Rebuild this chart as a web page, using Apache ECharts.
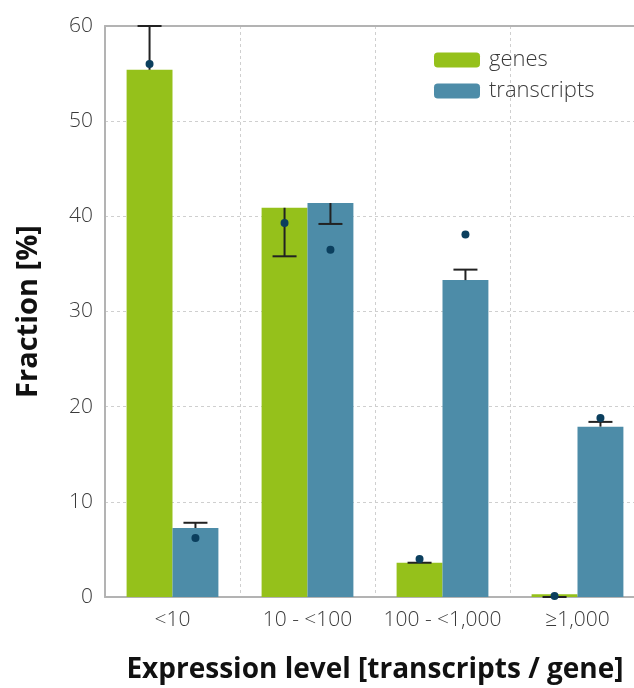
<!DOCTYPE html>
<html><head><meta charset="utf-8">
<script src="https://cdn.jsdelivr.net/npm/echarts@6/dist/echarts.min.js"></script>
<style>html,body{margin:0;padding:0;background:#fff}#c{width:634px;height:688px}</style>
</head><body><div id="c"></div>
<script>
var categories = ['<10', '10 - <100', '100 - <1,000', '\u22651,000'];
var genes = [55.4, 40.9, 3.6, 0.3];
var transcripts = [7.25, 41.4, 33.3, 17.9];
var genesErrEnd = [60, 35.8, 3.6, 0.0];
var transcriptsErrEnd = [7.8, 39.2, 34.4, 18.4];
var genesDots = [56.0, 39.3, 4.0, 0.1];
var transcriptsDots = [6.2, 36.5, 38.1, 18.8];
var yTicks = [0, 10, 20, 30, 40, 50, 60];

var GAP = 0.32;
var HALF = (1 - GAP) / 4;

function errSeries(bars, ends, sign) {
  return {
    type: 'custom', z: 5, silent: true,
    data: bars.map(function (v, i) { return [i, v, ends[i]]; }),
    renderItem: function (params, api) {
      var bw = api.size([1, 0])[0];
      var p0 = api.coord([api.value(0), api.value(1)]);
      var p1 = api.coord([api.value(0), api.value(2)]);
      var x = p0[0] + sign * HALF * bw;
      var cw = 12;
      return {
        type: 'group', children: [
          { type: 'line', shape: { x1: x, y1: p0[1], x2: x, y2: p1[1] }, style: { stroke: '#222', lineWidth: 2 } },
          { type: 'line', shape: { x1: x - cw, y1: p1[1], x2: x + cw, y2: p1[1] }, style: { stroke: '#222', lineWidth: 2 } }
        ]
      };
    }
  };
}
function dotSeries(dots, sign) {
  return {
    type: 'custom', z: 6, silent: true,
    data: dots.map(function (v, i) { return [i, v]; }),
    renderItem: function (params, api) {
      var bw = api.size([1, 0])[0];
      var p = api.coord([api.value(0), api.value(1)]);
      return { type: 'circle', shape: { cx: p[0] + sign * HALF * bw, cy: p[1], r: 4 }, style: { fill: '#0b3f5e' } };
    }
  };
}

var chart = echarts.init(document.getElementById('c'), null, { renderer: 'canvas' });
chart.setOption({
  animation: false,
  textStyle: { fontFamily: 'Open Sans' },
  grid: { left: 105, top: 26, width: 540, bottom: 91, outerBoundsMode: 'none', containLabel: false },
  legend: {
    orient: 'vertical', left: 429, top: 44, itemWidth: 46, itemHeight: 15, itemGap: 9,
    textStyle: { fontSize: 22, color: '#3a3a3a', fontWeight: 300, lineHeight: 22, padding: [0, 0, 0, 4] },
    data: ['genes', 'transcripts']
  },
  xAxis: [{
    type: 'category', data: categories,
    axisLine: { lineStyle: { color: '#b3b3b3', width: 2 } },
    axisTick: { show: false },
    axisLabel: { fontSize: 21, color: '#3a3a3a', fontWeight: 300, margin: 13, interval: 0, hideOverlap: false },
    splitLine: { show: true, interval: 0, lineStyle: { color: '#cfcfcf', type: [3, 3], width: 1 } },
    name: 'Expression level [transcripts / gene]', nameLocation: 'middle', nameGap: 59,
    nameTextStyle: { fontSize: 28, fontWeight: 'bold', color: '#111' }
  }, {
    type: 'category', data: categories, position: 'top',
    axisLine: { show: true, lineStyle: { color: '#b3b3b3', width: 2 } },
    axisTick: { show: false }, axisLabel: { show: false }, splitLine: { show: false }
  }],
  yAxis: {
    type: 'value', min: 0, max: 60, interval: 10,
    axisLine: { show: true, lineStyle: { color: '#b3b3b3', width: 2 } },
    axisTick: { show: false },
    axisLabel: { fontSize: 21, color: '#3a3a3a', fontWeight: 300, margin: 12,
      formatter: function (v) { return yTicks.indexOf(v) >= 0 ? String(v) : ''; } },
    splitLine: { show: true, lineStyle: { color: '#cfcfcf', type: [3, 3], width: 1 } },
    name: 'Fraction [%]', nameLocation: 'middle', nameGap: 62,
    nameTextStyle: { fontSize: 29, fontWeight: 'bold', color: '#111' }
  },
  series: [
    { name: 'genes', type: 'bar', data: genes, barGap: 0, barCategoryGap: '32%', itemStyle: { color: '#95c11b' } },
    { name: 'transcripts', type: 'bar', data: transcripts, barGap: 0, barCategoryGap: '32%', itemStyle: { color: '#4d8ca8' } },
    errSeries(genes, genesErrEnd, -1),
    errSeries(transcripts, transcriptsErrEnd, 1),
    dotSeries(genesDots, -1),
    dotSeries(transcriptsDots, 1)
  ]
});
</script></body></html>
